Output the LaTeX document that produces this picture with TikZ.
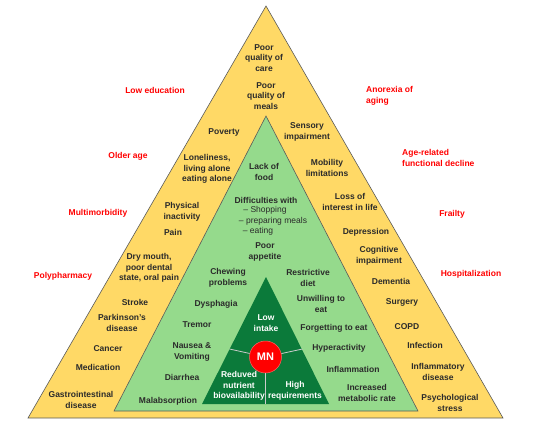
\documentclass[tikz,border=0pt]{standalone}
\usepackage{fontspec}
\setmainfont{Liberation Sans}
\definecolor{yel}{HTML}{FFD966}
\definecolor{lgreen}{HTML}{95DA8C}
\definecolor{dgreen}{HTML}{0B7A3A}
\definecolor{txt}{HTML}{2B2B2B}
\definecolor{redc}{HTML}{FF0000}
\definecolor{edge}{HTML}{5A5A5A}
\tikzset{
  lbl/.style={text=txt,font=\fontsize{8.5}{10.5}\selectfont\bfseries,align=center,inner sep=0pt},
  sub/.style={text=txt,font=\fontsize{8.5}{10.5}\selectfont,align=center,inner sep=0pt},
  rlbl/.style={text=redc,font=\fontsize{8.5}{10.5}\selectfont\bfseries,align=center,inner sep=0pt},
  rlbll/.style={text=redc,font=\fontsize{8.5}{10.5}\selectfont\bfseries,align=left,inner sep=0pt,anchor=west},
  wlbl/.style={text=white,font=\fontsize{8.5}{10.5}\selectfont\bfseries,align=center,inner sep=0pt},
  divline/.style={draw=gray!40!white,line width=0.8pt}
}
\begin{document}
\begin{tikzpicture}[x=1pt,y=-1pt]
\useasboundingbox (0,0) rectangle (549,433);
% outer triangle
\draw[fill=yel,draw=edge,line width=0.6pt] (266,6) -- (503,418) -- (28,418) -- cycle;
% middle triangle
\draw[fill=lgreen,draw=edge,line width=0.6pt] (266,116) -- (418,411) -- (114,411) -- cycle;
% inner triangle
\fill[dgreen] (266,277) -- (329,404) -- (202,404) -- cycle;
\coordinate (dl) at (229.5,349);
\coordinate (dr) at (302.5,349);
\coordinate (db) at (265.5,404);
\node[circle,fill=redc,draw=red!60!white,line width=0.5pt,minimum size=32pt,inner sep=0pt] (mn) at (265.5,357) {};
\draw[divline] (mn) -- (dl);
\draw[divline] (mn) -- (dr);
\draw[divline] (mn) -- (db);
\node[text=white,font=\fontsize{11}{12}\selectfont\bfseries,inner sep=0pt] (mntext) at (mn) {MN};

% outer yellow labels
\node[lbl] (care) at (264,58) {Poor\\quality of\\care};
\node[lbl] (meals) at (266,96) {Poor\\quality of\\meals};
\node[lbl] (poverty) at (224,132) {Poverty};
\node[lbl] (sensory) at (307,132) {Sensory\\impairment};
\node[lbl] (lonely) at (207,169) {Loneliness,\\living alone\\eating alone};
\node[lbl] (mobility) at (327,168) {Mobility\\limitations};
\node[lbl] (loss) at (350,202) {Loss of\\interest in life};
\node[lbl] (physical) at (182,212) {Physical\\inactivity};
\node[lbl] (pain) at (173,232) {Pain};
\node[lbl] (depr) at (366,232) {Depression};
\node[lbl] (dry) at (149,268) {Dry mouth,\\poor dental\\state, oral pain};
\node[lbl] (cogn) at (379,256) {Cognitive\\impairment};
\node[lbl] (dementia) at (391,281) {Dementia};
\node[lbl] (stroke) at (135,302) {Stroke};
\node[lbl] (surgery) at (402,302) {Surgery};
\node[lbl] (parkinson) at (122,323) {Parkinson's\\disease};
\node[lbl] (copd) at (407,327) {COPD};
\node[lbl] (infection) at (425,345) {Infection};
\node[lbl] (cancer) at (108,349) {Cancer};
\node[lbl] (medication) at (98,367) {Medication};
\node[lbl] (inflamdis) at (438,372) {Inflammatory\\disease};
\node[lbl] (gastro) at (81,400) {Gastrointestinal\\disease};
\node[lbl] (psych) at (450,403) {Psychological\\stress};

% green labels
\node[lbl] (lack) at (264,172) {Lack of\\food};
\node[lbl] (diff) at (266,200) {Difficulties with};
\node[sub] (shop) at (265,210.5) {-- Shopping};
\node[sub] (prep) at (273,221) {-- preparing meals};
\node[sub] (eating) at (258,231.5) {-- eating};
\node[lbl] (appetite) at (265,252) {Poor\\appetite};
\node[lbl] (chewing) at (228,278) {Chewing\\problems};
\node[lbl] (restrictive) at (308,278) {Restrictive\\diet};
\node[lbl] (dysphagia) at (216,304) {Dysphagia};
\node[lbl] (unwilling) at (321,304) {Unwilling to\\eat};
\node[lbl] (tremor) at (197,325) {Tremor};
\node[lbl] (forget) at (334,328) {Forgetting to eat};
\node[lbl] (hyper) at (339,348) {Hyperactivity};
\node[lbl] (nausea) at (192,352) {Nausea \&\\Vomiting};
\node[lbl] (inflam) at (353,369) {Inflammation};
\node[lbl] (diarrhea) at (182,377) {Diarrhea};
\node[lbl] (increased) at (367,393) {Increased\\metabolic rate};
\node[lbl] (malabs) at (168,401) {Malabsorption};

% dark green labels
\node[wlbl] (low) at (266,323) {Low\\intake};
\node[wlbl] (reduved) at (239,386) {Reduved\\nutrient\\biovailability};
\node[wlbl] (high) at (295,391) {High\\requirements};

% red outside labels
\node[rlbl] (lowedu) at (155,90) {Low education};
\node[rlbl] (older) at (128,156) {Older age};
\node[rlbl] (multi) at (98,213) {Multimorbidity};
\node[rlbl] (poly) at (63,276) {Polypharmacy};
\node[rlbll] (anorexia) at (366,96) {Anorexia of\\aging};
\node[rlbll] (agerel) at (402,158) {Age-related\\functional decline};
\node[rlbl] (frailty) at (452,214) {Frailty};
\node[rlbl] (hosp) at (471,274) {Hospitalization};
\end{tikzpicture}
\end{document}
